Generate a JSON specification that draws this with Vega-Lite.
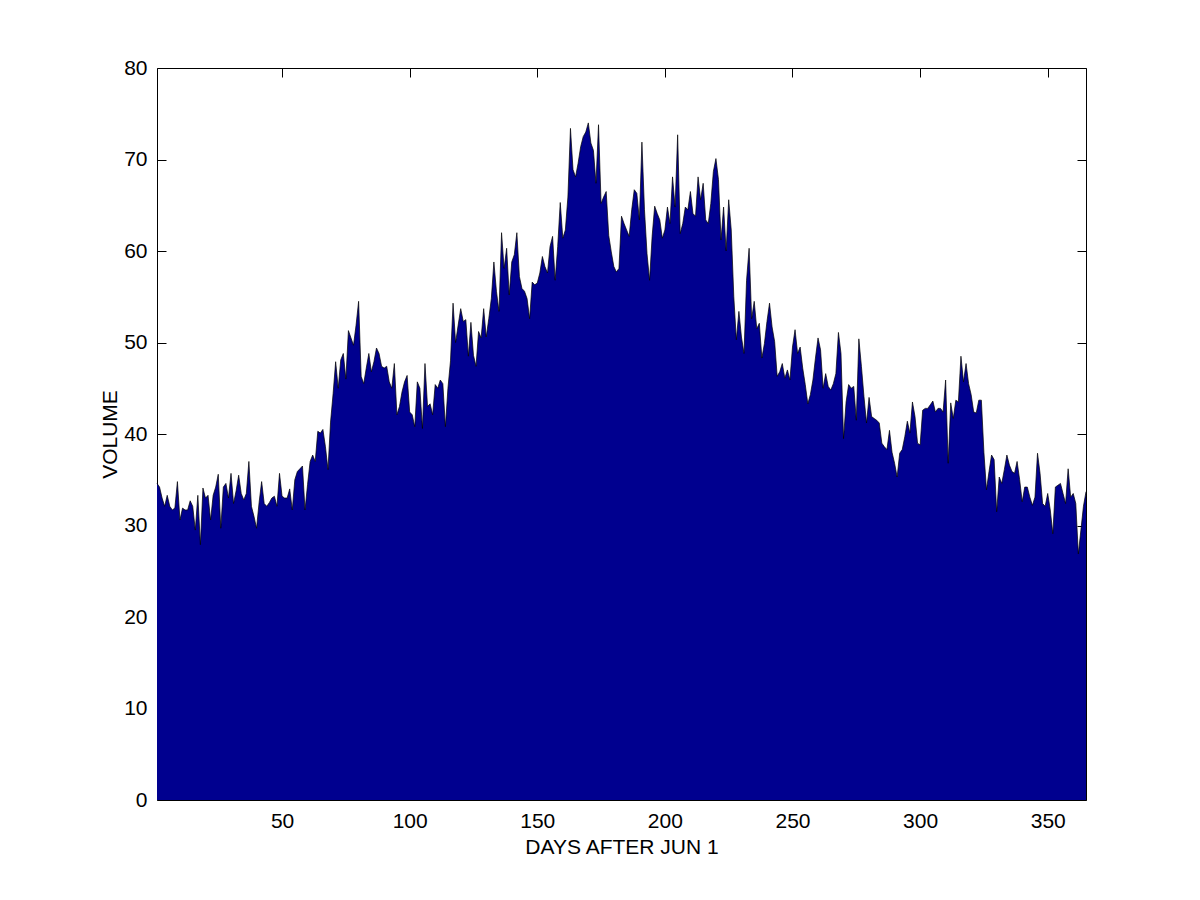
{
"$schema": "https://vega.github.io/schema/vega-lite/v6.json",
"width": 929,
"height": 732,
"autosize": "none",
"padding": {"left": 157, "top": 68, "right": 114, "bottom": 100},
"background": "white",
"config": {
  "view": {"stroke": null},
  "font": "Liberation Sans",
  "axis": {"domainColor": "black", "domainWidth": 1, "tickColor": "black", "tickWidth": 1, "grid": false, "labelColor": "black", "titleColor": "black", "labelFontSize": 21, "titleFontSize": 21, "titleFontWeight": "normal", "labelFont": "Liberation Sans", "titleFont": "Liberation Sans"}
},
"data": {"values": [
{"day":1,"volume":34.6},{"day":2,"volume":34.2},{"day":3,"volume":33.0},{"day":4,"volume":32.1},{"day":5,"volume":33.3},{"day":6,"volume":32.1},{"day":7,"volume":31.7},{"day":8,"volume":31.9},{"day":9,"volume":34.8},{"day":10,"volume":30.6},
{"day":11,"volume":31.9},{"day":12,"volume":31.7},{"day":13,"volume":31.7},{"day":14,"volume":32.7},{"day":15,"volume":32.1},{"day":16,"volume":29.5},{"day":17,"volume":33.3},{"day":18,"volume":27.9},{"day":19,"volume":34.1},{"day":20,"volume":33.0},
{"day":21,"volume":33.3},{"day":22,"volume":30.6},{"day":23,"volume":33.3},{"day":24,"volume":34.2},{"day":25,"volume":35.6},{"day":26,"volume":29.7},{"day":27,"volume":34.2},{"day":28,"volume":34.6},{"day":29,"volume":33.0},{"day":30,"volume":35.7},
{"day":31,"volume":32.4},{"day":32,"volume":33.8},{"day":33,"volume":35.5},{"day":34,"volume":33.5},{"day":35,"volume":32.8},{"day":36,"volume":33.5},{"day":37,"volume":37.0},{"day":38,"volume":32.1},{"day":39,"volume":31.0},{"day":40,"volume":29.7},
{"day":41,"volume":32.5},{"day":42,"volume":34.8},{"day":43,"volume":32.4},{"day":44,"volume":32.1},{"day":45,"volume":32.5},{"day":46,"volume":33.0},{"day":47,"volume":33.2},{"day":48,"volume":32.1},{"day":49,"volume":35.7},{"day":50,"volume":33.2},
{"day":51,"volume":33.0},{"day":52,"volume":33.0},{"day":53,"volume":34.0},{"day":54,"volume":31.7},{"day":55,"volume":35.0},{"day":56,"volume":35.9},{"day":57,"volume":36.2},{"day":58,"volume":36.5},{"day":59,"volume":31.7},{"day":60,"volume":34.5},
{"day":61,"volume":37.0},{"day":62,"volume":37.7},{"day":63,"volume":37.0},{"day":64,"volume":40.3},{"day":65,"volume":40.1},{"day":66,"volume":40.5},{"day":67,"volume":38.6},{"day":68,"volume":36.1},{"day":69,"volume":41.3},{"day":70,"volume":44.4},
{"day":71,"volume":47.9},{"day":72,"volume":45.0},{"day":73,"volume":48.1},{"day":74,"volume":48.8},{"day":75,"volume":46.0},{"day":76,"volume":51.3},{"day":77,"volume":50.5},{"day":78,"volume":49.7},{"day":79,"volume":51.9},{"day":80,"volume":54.5},
{"day":81,"volume":46.3},{"day":82,"volume":45.5},{"day":83,"volume":47.2},{"day":84,"volume":48.8},{"day":85,"volume":46.8},{"day":86,"volume":47.9},{"day":87,"volume":49.4},{"day":88,"volume":48.8},{"day":89,"volume":47.4},{"day":90,"volume":47.2},
{"day":91,"volume":47.4},{"day":92,"volume":45.7},{"day":93,"volume":45.0},{"day":94,"volume":47.7},{"day":95,"volume":42.1},{"day":96,"volume":43.0},{"day":97,"volume":44.6},{"day":98,"volume":45.7},{"day":99,"volume":46.4},{"day":100,"volume":42.4},
{"day":101,"volume":42.1},{"day":102,"volume":40.8},{"day":103,"volume":45.7},{"day":104,"volume":45.0},{"day":105,"volume":40.6},{"day":106,"volume":47.7},{"day":107,"volume":43.0},{"day":108,"volume":43.3},{"day":109,"volume":42.1},{"day":110,"volume":45.4},
{"day":111,"volume":45.0},{"day":112,"volume":45.9},{"day":113,"volume":45.5},{"day":114,"volume":40.8},{"day":115,"volume":45.0},{"day":116,"volume":48.0},{"day":117,"volume":54.3},{"day":118,"volume":50.0},{"day":119,"volume":51.9},{"day":120,"volume":53.7},
{"day":121,"volume":52.3},{"day":122,"volume":52.5},{"day":123,"volume":48.5},{"day":124,"volume":52.2},{"day":125,"volume":48.6},{"day":126,"volume":47.4},{"day":127,"volume":51.2},{"day":128,"volume":50.5},{"day":129,"volume":53.7},{"day":130,"volume":50.6},
{"day":131,"volume":52.6},{"day":132,"volume":54.8},{"day":133,"volume":58.8},{"day":134,"volume":55.6},{"day":135,"volume":53.4},{"day":136,"volume":62.0},{"day":137,"volume":58.1},{"day":138,"volume":60.3},{"day":139,"volume":55.2},{"day":140,"volume":58.8},
{"day":141,"volume":59.6},{"day":142,"volume":62.0},{"day":143,"volume":57.2},{"day":144,"volume":55.9},{"day":145,"volume":55.6},{"day":146,"volume":54.8},{"day":147,"volume":52.6},{"day":148,"volume":56.6},{"day":149,"volume":56.3},{"day":150,"volume":56.5},
{"day":151,"volume":57.6},{"day":152,"volume":59.4},{"day":153,"volume":58.3},{"day":154,"volume":57.6},{"day":155,"volume":60.5},{"day":156,"volume":61.6},{"day":157,"volume":56.8},{"day":158,"volume":60.5},{"day":159,"volume":65.3},{"day":160,"volume":61.4},
{"day":161,"volume":62.3},{"day":162,"volume":65.9},{"day":163,"volume":73.4},{"day":164,"volume":68.9},{"day":165,"volume":68.1},{"day":166,"volume":69.6},{"day":167,"volume":71.4},{"day":168,"volume":72.5},{"day":169,"volume":73.0},{"day":170,"volume":74.0},
{"day":171,"volume":71.8},{"day":172,"volume":71.0},{"day":173,"volume":67.4},{"day":174,"volume":73.8},{"day":175,"volume":65.2},{"day":176,"volume":65.9},{"day":177,"volume":66.5},{"day":178,"volume":61.7},{"day":179,"volume":59.9},{"day":180,"volume":58.3},
{"day":181,"volume":57.7},{"day":182,"volume":58.1},{"day":183,"volume":63.8},{"day":184,"volume":63.0},{"day":185,"volume":62.3},{"day":186,"volume":61.6},{"day":187,"volume":64.5},{"day":188,"volume":66.7},{"day":189,"volume":66.3},{"day":190,"volume":63.4},
{"day":191,"volume":71.9},{"day":192,"volume":64.5},{"day":193,"volume":59.7},{"day":194,"volume":56.8},{"day":195,"volume":61.6},{"day":196,"volume":64.9},{"day":197,"volume":64.1},{"day":198,"volume":63.4},{"day":199,"volume":61.4},{"day":200,"volume":62.3},
{"day":201,"volume":64.8},{"day":202,"volume":63.0},{"day":203,"volume":68.1},{"day":204,"volume":64.8},{"day":205,"volume":72.7},{"day":206,"volume":61.9},{"day":207,"volume":63.0},{"day":208,"volume":64.8},{"day":209,"volume":64.5},{"day":210,"volume":66.5},
{"day":211,"volume":64.1},{"day":212,"volume":63.8},{"day":213,"volume":68.1},{"day":214,"volume":65.6},{"day":215,"volume":67.4},{"day":216,"volume":63.4},{"day":217,"volume":63.0},{"day":218,"volume":65.2},{"day":219,"volume":68.7},{"day":220,"volume":70.1},
{"day":221,"volume":67.8},{"day":222,"volume":61.2},{"day":223,"volume":64.8},{"day":224,"volume":60.0},{"day":225,"volume":65.6},{"day":226,"volume":62.3},{"day":227,"volume":55.0},{"day":228,"volume":50.3},{"day":229,"volume":53.4},{"day":230,"volume":50.6},
{"day":231,"volume":48.8},{"day":232,"volume":56.8},{"day":233,"volume":60.3},{"day":234,"volume":52.6},{"day":235,"volume":54.5},{"day":236,"volume":51.5},{"day":237,"volume":52.1},{"day":238,"volume":48.3},{"day":239,"volume":49.9},{"day":240,"volume":52.3},
{"day":241,"volume":54.3},{"day":242,"volume":51.7},{"day":243,"volume":50.1},{"day":244,"volume":46.3},{"day":245,"volume":46.8},{"day":246,"volume":47.7},{"day":247,"volume":46.1},{"day":248,"volume":47.0},{"day":249,"volume":45.9},{"day":250,"volume":49.5},
{"day":251,"volume":51.4},{"day":252,"volume":48.8},{"day":253,"volume":49.5},{"day":254,"volume":47.2},{"day":255,"volume":45.4},{"day":256,"volume":43.3},{"day":257,"volume":44.3},{"day":258,"volume":45.9},{"day":259,"volume":48.3},{"day":260,"volume":50.5},
{"day":261,"volume":49.2},{"day":262,"volume":45.0},{"day":263,"volume":46.6},{"day":264,"volume":45.2},{"day":265,"volume":44.8},{"day":266,"volume":45.5},{"day":267,"volume":46.6},{"day":268,"volume":51.1},{"day":269,"volume":48.8},{"day":270,"volume":39.5},
{"day":271,"volume":43.5},{"day":272,"volume":45.4},{"day":273,"volume":45.0},{"day":274,"volume":45.2},{"day":275,"volume":41.5},{"day":276,"volume":50.4},{"day":277,"volume":47.4},{"day":278,"volume":44.1},{"day":279,"volume":41.2},{"day":280,"volume":44.0},
{"day":281,"volume":41.9},{"day":282,"volume":41.7},{"day":283,"volume":41.5},{"day":284,"volume":41.2},{"day":285,"volume":39.0},{"day":286,"volume":38.6},{"day":287,"volume":38.3},{"day":288,"volume":40.4},{"day":289,"volume":38.0},{"day":290,"volume":36.8},
{"day":291,"volume":35.3},{"day":292,"volume":37.9},{"day":293,"volume":38.3},{"day":294,"volume":39.7},{"day":295,"volume":41.4},{"day":296,"volume":40.1},{"day":297,"volume":43.5},{"day":298,"volume":41.9},{"day":299,"volume":39.0},{"day":300,"volume":38.8},
{"day":301,"volume":42.6},{"day":302,"volume":42.8},{"day":303,"volume":42.8},{"day":304,"volume":43.2},{"day":305,"volume":43.6},{"day":306,"volume":42.4},{"day":307,"volume":42.8},{"day":308,"volume":42.8},{"day":309,"volume":42.4},{"day":310,"volume":45.9},
{"day":311,"volume":36.8},{"day":312,"volume":43.4},{"day":313,"volume":41.7},{"day":314,"volume":43.7},{"day":315,"volume":43.5},{"day":316,"volume":48.5},{"day":317,"volume":45.7},{"day":318,"volume":47.7},{"day":319,"volume":45.5},{"day":320,"volume":44.3},
{"day":321,"volume":42.4},{"day":322,"volume":42.3},{"day":323,"volume":43.7},{"day":324,"volume":43.7},{"day":325,"volume":38.0},{"day":326,"volume":33.9},{"day":327,"volume":35.9},{"day":328,"volume":37.7},{"day":329,"volume":37.2},{"day":330,"volume":31.5},
{"day":331,"volume":35.3},{"day":332,"volume":34.6},{"day":333,"volume":36.1},{"day":334,"volume":37.7},{"day":335,"volume":36.6},{"day":336,"volume":35.9},{"day":337,"volume":35.7},{"day":338,"volume":37.0},{"day":339,"volume":35.0},{"day":340,"volume":32.6},
{"day":341,"volume":34.2},{"day":342,"volume":34.2},{"day":343,"volume":33.1},{"day":344,"volume":32.2},{"day":345,"volume":33.1},{"day":346,"volume":37.9},{"day":347,"volume":35.7},{"day":348,"volume":32.4},{"day":349,"volume":32.1},{"day":350,"volume":33.5},
{"day":351,"volume":31.7},{"day":352,"volume":29.1},{"day":353,"volume":34.2},{"day":354,"volume":34.4},{"day":355,"volume":34.6},{"day":356,"volume":33.5},{"day":357,"volume":32.4},{"day":358,"volume":36.2},{"day":359,"volume":33.1},{"day":360,"volume":33.5},
{"day":361,"volume":32.4},{"day":362,"volume":26.9},{"day":363,"volume":29.5},{"day":364,"volume":32.1},{"day":365,"volume":33.7}
]},
"layer": [
  {
    "mark": {"type": "area", "color": "#00008F", "opacity": 1},
    "encoding": {
      "x": {"field": "day", "type": "quantitative", "scale": {"domain": [1, 365], "nice": false, "zero": false},
            "axis": {"orient": "bottom", "values": [50, 100, 150, 200, 250, 300, 350], "title": "DAYS AFTER JUN 1", "tickSize": -9, "labelPadding": 19, "labelFlush": false, "titleY": 47, "titleBaseline": "middle"}},
      "y": {"field": "volume", "type": "quantitative", "scale": {"domain": [0, 80], "nice": false, "zero": true},
            "axis": {"orient": "left", "values": [0, 10, 20, 30, 40, 50, 60, 70, 80], "title": "VOLUME", "tickSize": -9, "labelPadding": 19, "titleX": -47, "titleY": 366, "titleAlign": "center", "titleBaseline": "middle", "titleAngle": -90}}
    }
  },
  {
    "mark": {"type": "line", "color": "black", "strokeWidth": 0.7},
    "encoding": {
      "x": {"field": "day", "type": "quantitative", "scale": {"domain": [1, 365], "nice": false, "zero": false},
            "axis": {"orient": "top", "values": [50, 100, 150, 200, 250, 300, 350], "title": null, "labels": false, "tickSize": -9}},
      "y": {"field": "volume", "type": "quantitative", "scale": {"domain": [0, 80], "nice": false, "zero": true},
            "axis": {"orient": "right", "values": [0, 10, 20, 30, 40, 50, 60, 70, 80], "title": null, "labels": false, "tickSize": -9}}
    }
  }
],
"resolve": {"axis": {"x": "independent", "y": "independent"}}
}
